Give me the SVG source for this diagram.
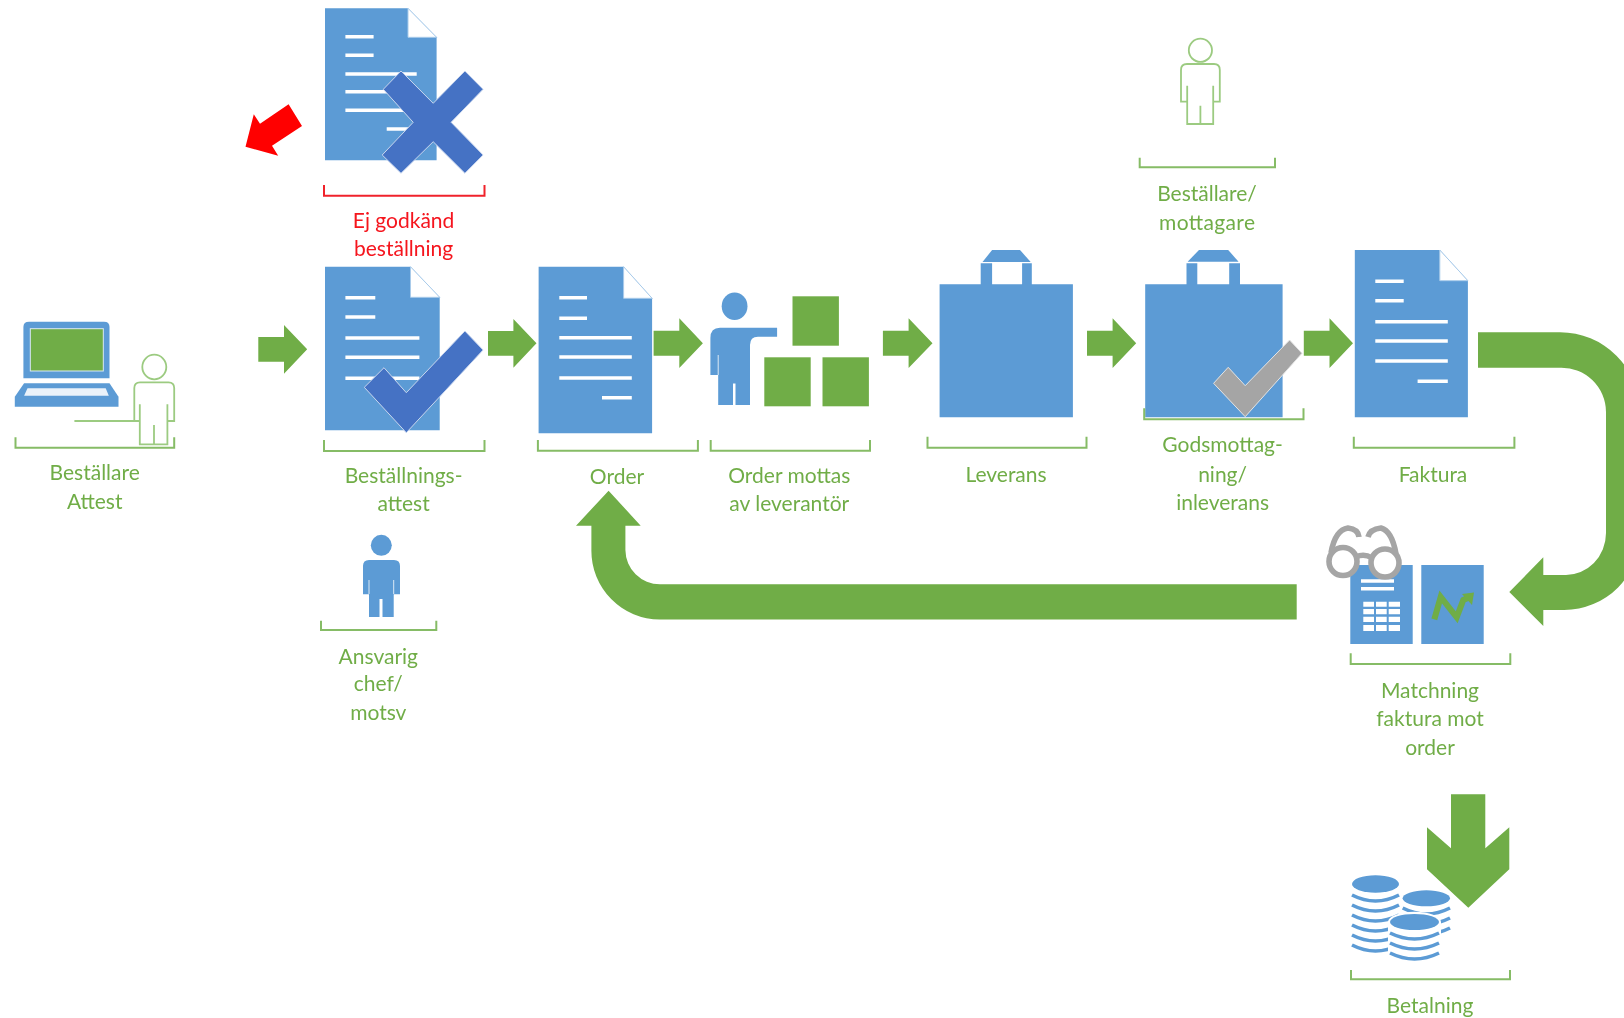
<svg xmlns="http://www.w3.org/2000/svg" width="1624" height="1018" viewBox="0 0 1624 1018">
<style>
text{font-family:"Lato","Open Sans","Liberation Sans",sans-serif;font-size:21px;fill:#70AD47;text-anchor:middle}
text.red{fill:#F5141E}
.blue{fill:#5B9BD5}
.green{fill:#70AD47}
.br{fill:none;stroke:#86BC66;stroke-width:2}
.brr{fill:none;stroke:#F0242C;stroke-width:2}
.fold{fill:#fff;stroke:#A9CBEA;stroke-width:1}
.ln{stroke:#fff;stroke-width:3.6;fill:none}
.thin{stroke:#DCE9F5;stroke-width:1;fill:none}
.dk{fill:#4472C4;stroke:#C9D6EE;stroke-width:1}
.gr{fill:#A5A5A5;stroke:#E4E4E4;stroke-width:1}
.po{fill:none;stroke:#9CCB81;stroke-width:1.8}
.coin{fill:none;stroke:#5B9BD5;stroke-width:3.6}
.gl{fill:none;stroke:#A5A5A5;stroke-width:5.6}
.gw{fill:#fff}
</style>
<defs><filter id="soft" x="0" y="0" width="100%" height="100%"><feGaussianBlur stdDeviation="0.45"/></filter></defs>
<g filter="url(#soft)">
<g id="connectors">
<path class="green" d="M258.3,337H284V325L307.2,349.3L284,373.7V361.7H258.3Z"/>
<path class="green" d="M488,331H513.4V319L536.5,343.3L513.4,367.7V355.7H488Z"/>
<path class="green" d="M653.6,330.7H679.3V318.3L702.9,343.3L679.3,368V355.7H653.6Z"/>
<path class="green" d="M882.9,330.7H908.6V318.3L932.5,343.3L908.6,368V355.7H882.9Z"/>
<path class="green" d="M1087,330.7H1112.6V318.3L1136.2,343.3L1112.6,368V355.7H1087Z"/>
<path class="green" d="M1303.8,330.7H1329.5V318.3L1353,343.3L1329.5,368V355.7H1303.8Z"/>
<path class="green" d="M1478,332.3H1560A80,80 0 0 1 1640,412V533A76,76 0 0 1 1564,610H1543.3V626L1509.3,592L1543.3,557.3V575H1565A40,42 0 0 0 1606,533V412A44.6,44.6 0 0 0 1560.6,367.7H1478Z"/>
<path class="green" d="M1296.7,584.3H660A34.6,34.6 0 0 1 625.4,550V525.7H640.7L608.6,490.7L576,525.7H591.4V550A68.6,68.6 0 0 0 660,619.5H1296.7Z"/>
<path class="green" d="M1451,794.3H1485.3V848.3L1509.3,827.3V869.3L1468.3,907.7L1427,869.3V827.3L1451,848.3Z"/>
<path fill="#FF0000" d="M288.6,104.3L302,126L272,145.7L278.2,155.7L245.5,146.7L253.8,114.3L260,123.7Z"/>
</g>
<g id="ej-godkand">
<path class="blue" d="M325,8.3H408L436.6,37.3V160.3H325Z"/>
<path class="fold" d="M408,8.3V37.3H436.6Z"/>
<path class="ln" d="M345.4,36.7H373.6M345.4,55.3H373.6M345.4,74H416.7M345.4,91.7H416.7M345.4,110.3H416.7M386.7,129H416.7"/>
<path class="dk" d="M401,71L383.3,89.3L413.2,122.3L382.2,155L401,173.3L433.2,141.7L464.9,173.3L483.1,155L451.1,122.3L483.1,89.3L464.9,71L433.2,103.3Z"/>
<path class="brr" d="M324,185V195.7H484.5V185"/>
<text class="red" x="403.6" y="227.7">Ej godkänd</text>
<text class="red" x="403.6" y="256.3">beställning</text>
</g>
<g id="bestallare-attest">
<path class="blue" d="M23.4,378.3V327Q23.4,321.7 29,321.7H104Q109.5,321.7 109.5,327V378.3Z"/>
<rect x="30.3" y="328.7" width="73" height="42.3" fill="#70AD47" stroke="#DCE9F5" stroke-width="1"/>
<path class="blue" d="M24.1,383.3H109.5L118.5,396.7V406.7H14.8V396.7Z"/>
<path fill="#EAF2FA" d="M27.5,388.3H105.7L108.8,395.7H24.1Z"/>
<ellipse class="po" cx="154.3" cy="367" rx="12" ry="12.3"/>
<path class="po" d="M74.4,421H139.8M139.8,404.3V444.3H167.4V404.3M154,425V444.3M139.8,421H134.3V388Q134.3,382.3 140,382.3H168.5Q174.2,382.3 174.2,388V421H167.4"/>
<path class="br" d="M15.5,437.3V447.7H174.2V437.3"/>
<text x="94.7" y="480">Beställare</text>
<text x="94.7" y="508.5">Attest</text>
</g>
<g id="bestallningsattest">
<path class="blue" d="M325,266.7H410.5L439.7,297.3V430.3H325Z"/>
<path class="fold" d="M410.5,266.7V297.3H439.7Z"/>
<path class="ln" d="M345.4,297.7H375.3M345.4,317H375.3M345.4,338H419.4M345.4,357.3H419.4M345.4,378.3H419.4"/>
<path class="dk" d="M464.9,331L483.1,350L406.3,432.7L364.3,387.3L384,367.7L406.3,392.7Z"/>
<path class="br" d="M324,440V451H484.5V440"/>
<text x="403.6" y="482.7">Beställnings-</text>
<text x="403.6" y="511.3">attest</text>
</g>
<g id="ansvarig">
<circle class="blue" cx="381.3" cy="545.3" r="10.5"/>
<path class="blue" d="M369,617V594.3H363V566Q363,560 369,560H394Q400,560 400,566V594.3H393.7V617H382.5V599H379.5V617Z"/>
<path class="thin" d="M369,580V594M393.7,580V594"/>
<path class="br" d="M321,620.7V630H436.3V620.7"/>
<text x="378.3" y="663.5">Ansvarig</text>
<text x="378.3" y="691">chef/</text>
<text x="378.3" y="719.5">motsv</text>
</g>
<g id="order">
<path class="blue" d="M538.6,266.7H623.6L652.1,298.3V433.3H538.6Z"/>
<path class="fold" d="M623.6,266.7V298.3H652.1Z"/>
<path class="ln" d="M559.3,297.7H587M559.3,318.3H587M559.3,337.7H631.8M559.3,357H631.8M559.3,378H631.8M602,397.7H631.8"/>
<path class="br" d="M537.9,440V450.7H697.9V440"/>
<text x="617" y="483.5">Order</text>
</g>
<g id="order-mottas">
<ellipse class="blue" cx="734.6" cy="306.3" rx="12.9" ry="13.7"/>
<path class="blue" d="M718.2,405V375H710.4V338Q710.4,327.7 720,327.7H777.1V336.7H758Q750,336.7 750,345V405H735.5V383.5H733V405Z"/>
<path class="thin" d="M718.2,355V375"/>
<rect class="green" x="792.5" y="296.3" width="46.4" height="49.4"/>
<rect class="green" x="764.3" y="357.3" width="46.4" height="49"/>
<rect class="green" x="822.5" y="357.3" width="46.4" height="49"/>
<path class="br" d="M710.7,440V450.7H870V440"/>
<text x="789.3" y="483.3">Order mottas</text>
<text x="789.3" y="511">av leverantör</text>
</g>
<g id="leverans">
<path class="blue" d="M939.6,284.3H980.7V263.3H992.1V284.3H1022.1V263.3H1031.8V284.3H1072.9V417.3H939.6Z"/>
<path class="blue" d="M982.5,262L992.1,250H1020L1030.7,262Z"/>
<path class="br" d="M927.5,436.7V447.7H1086.5V436.7"/>
<text x="1006" y="481.5">Leverans</text>
</g>
<g id="bestallare-mottagare">
<circle class="po" cx="1200.4" cy="50.3" r="11.6"/>
<path class="po" d="M1187.2,85.7V124H1213.2V85.7M1200.4,105.7V124M1187.2,101.7H1181V70Q1181,64 1187,64H1214Q1219.8,64 1219.8,70V101.7H1213.2"/>
<path class="br" d="M1139.7,157.7V167.3H1275V157.7"/>
<text x="1207" y="201">Beställare/</text>
<text x="1207" y="229.8" textLength="96" lengthAdjust="spacing">mottagare</text>
</g>
<g id="godsmottagning">
<path class="blue" d="M1145.2,284.3H1186.5V263.3H1197.3V284.3H1229.2V263.3H1240V284.3H1282.6V417.3H1145.2Z"/>
<path class="blue" d="M1187.6,261.7L1199,250H1228.2L1238.6,261.7Z"/>
<path class="gr" d="M1289.6,340L1302,353.3L1245.2,416.7L1213.6,383.3L1228.2,367.3L1245.2,385.7Z"/>
<path class="br" d="M1144.2,408.3V419.3H1303.5V408.3"/>
<text x="1222.6" y="451.7">Godsmottag-</text>
<text x="1222.6" y="481.7">ning/</text>
<text x="1222.6" y="510">inleverans</text>
</g>
<g id="faktura">
<path class="blue" d="M1354.8,250H1439.8L1467.9,280.7V417.3H1354.8Z"/>
<path class="fold" d="M1439.8,250V280.7H1467.9Z"/>
<path class="ln" d="M1375.3,281.3H1403.7M1375.3,300.7H1403.7M1375.3,321.7H1447.8M1375.3,341H1447.8M1375.3,361H1447.8M1417.6,381.3H1447.8"/>
<path class="br" d="M1353.8,436.7V447.7H1514.4V436.7"/>
<text x="1433" y="481.5">Faktura</text>
</g>
<g id="matchning">
<rect class="blue" x="1350.3" y="565" width="62.4" height="79"/>
<rect class="blue" x="1421.3" y="565" width="62.4" height="79"/>
<path class="ln" d="M1361,581H1394M1361,588.7H1394"/>
<path fill="#fff" d="M1363.3,601.7h10.7v5h-10.7zM1376,601.7h10.7v5h-10.7zM1388.7,601.7h11.3v5h-11.3zM1363.3,609h10.7v5.3h-10.7zM1376,609h10.7v5.3h-10.7zM1388.7,609h11.3v5.3h-11.3zM1363.3,616.7h10.7v5.3h-10.7zM1376,616.7h10.7v5.3h-10.7zM1388.7,616.7h11.3v5.3h-11.3zM1363.3,625h10.7v6h-10.7zM1376,625h10.7v6h-10.7zM1388.7,625h11.3v6h-11.3z"/>
<path fill="none" stroke="#70AD47" stroke-width="6" d="M1434.3,619.3L1440.7,597L1456.7,617.3L1463.3,600L1470,597"/>
<path class="green" d="M1462,594L1474,592.5L1472,605Z"/>
<circle class="gw" cx="1343" cy="561.5" r="14"/>
<circle class="gw" cx="1385" cy="563" r="14"/>
<circle class="gl" cx="1343" cy="561.5" r="14"/>
<circle class="gl" cx="1385" cy="563" r="14"/>
<path class="gl" d="M1356,557Q1364,553 1372,558M1331,553Q1335,530 1348,528Q1358,529 1359,537M1368,537Q1370,529 1381,528Q1392,531 1396,554"/>
<path class="br" d="M1350.7,653.3V664H1510.3V653.3"/>
<text x="1430" y="698">Matchning</text>
<text x="1430" y="726">faktura mot</text>
<text x="1430" y="754.7">order</text>
</g>
<g id="betalning">
<ellipse class="blue" cx="1375.5" cy="884" rx="23.5" ry="8.7"/>
<path class="coin" d="M1352,895Q1375.5,907 1399,895M1352,905Q1375.5,917 1399,905M1352,915Q1375.5,927 1399,915M1352,925Q1375.5,937 1399,925M1352,935Q1375.5,947 1399,935M1352,945Q1375.5,957 1399,945"/>
<ellipse class="blue" cx="1426.3" cy="898.3" rx="23.7" ry="8"/>
<path class="coin" d="M1402.7,908Q1426.3,920 1450,908M1402.7,918Q1426.3,930 1450,918M1402.7,928Q1426.3,940 1450,928"/>
<path class="gw" d="M1388,922A26,10 0 0 1 1441,922V964H1388Z"/>
<ellipse class="blue" cx="1414.5" cy="922" rx="24.5" ry="8"/>
<path class="coin" d="M1390,933Q1414.5,945 1439,933M1390,943Q1414.5,955 1439,943M1390,953Q1414.5,965 1439,953"/>
<path class="br" d="M1351,970V979.3H1510V970"/>
<text x="1430" y="1013.3">Betalning</text>
</g>
</g>
</svg>
